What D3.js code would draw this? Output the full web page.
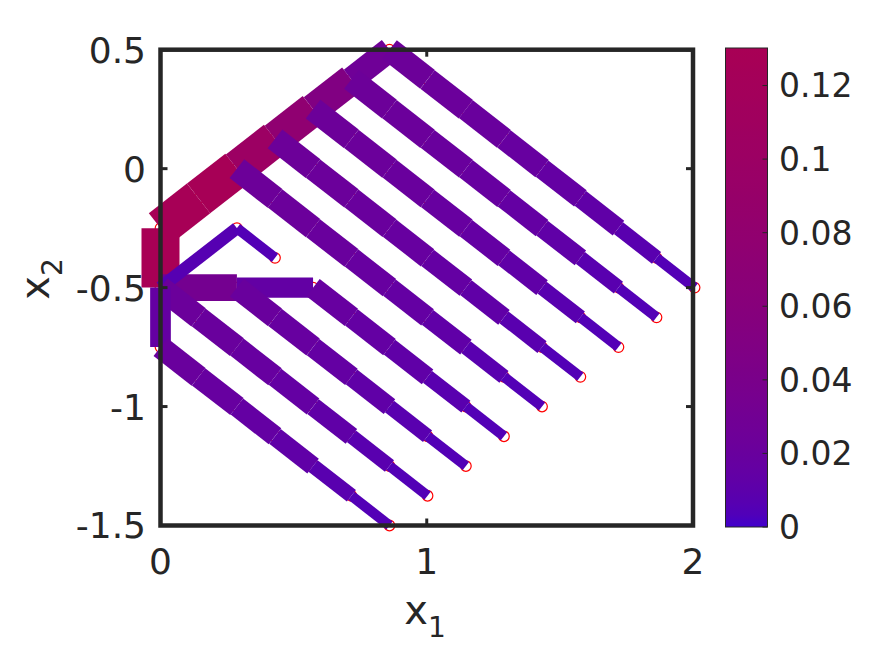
<!DOCTYPE html>
<html><head><meta charset="utf-8">
<script src="https://cdn.jsdelivr.net/npm/d3@7"></script>
<style>body{margin:0;background:#fff}svg{display:block}</style>
</head><body>
<svg id="chart" width="881" height="653"></svg>
<script>
// ---- data (x1, x2 coordinates of tree nodes; flow value per segment) ----
const bandPath = [[0,-0.5],[0,-0.25],[0.143,-0.125],[0.287,0],[0.43,0.125],[0.573,0.25],[0.717,0.375],[0.86,0.5]];
const bandFlow = [0.1302,0.1288,0.1274,0.1019,0.0764,0.051,0.0262];

const branchU2 = [[0.287,0],[0.43,-0.125],[0.573,-0.25],[0.717,-0.375],[0.86,-0.5],[1.003,-0.625],[1.147,-0.75],[1.29,-0.875],[1.433,-1.0]];
const branchU3 = [[0.43,0.125],[0.573,0],[0.717,-0.125],[0.86,-0.25],[1.003,-0.375],[1.147,-0.5],[1.29,-0.625],[1.433,-0.75],[1.577,-0.875]];
const branchU4 = [[0.573,0.25],[0.717,0.125],[0.86,0],[1.003,-0.125],[1.147,-0.25],[1.29,-0.375],[1.433,-0.5],[1.577,-0.625],[1.72,-0.75]];
const branchU5 = [[0.717,0.375],[0.86,0.25],[1.003,0.125],[1.147,0],[1.29,-0.125],[1.433,-0.25],[1.577,-0.375],[1.72,-0.5],[1.863,-0.625]];
const branchU6 = [[0.86,0.5],[1.003,0.375],[1.147,0.25],[1.29,0.125],[1.433,0],[1.577,-0.125],[1.72,-0.25],[1.863,-0.375],[2.006,-0.5]];
const upperFlow = [0.0235,0.022,0.02,0.018,0.0155,0.0125,0.0078,0.0045];

const horizPath = [[0,-0.5],[0.287,-0.5],[0.573,-0.5]];
const horizFlow = [0.033,0.015];
const bluePath = [[0,-0.5],[0.287,-0.25],[0.43,-0.375]];
const blueFlow = [0.006,0.0045];
const lowerA = [[0,-0.5],[0.143,-0.625],[0.287,-0.75],[0.43,-0.875],[0.573,-1.0],[0.717,-1.125],[0.86,-1.25],[1.003,-1.375]];
const flowA = [0.022,0.02,0.018,0.0155,0.0125,0.0078,0.0045];
const lowerB = [[0,-0.5],[0,-0.75],[0.143,-0.875],[0.287,-1.0],[0.43,-1.125],[0.573,-1.25],[0.717,-1.375],[0.86,-1.5]];
const flowB = [0.016,0.02,0.018,0.0155,0.0125,0.0078,0.0045];
const lowerC = [[0.287,-0.5],[0.43,-0.625],[0.573,-0.75],[0.717,-0.875],[0.86,-1.0],[1.003,-1.125],[1.147,-1.25]];
const flowC = [0.02,0.018,0.0155,0.0125,0.0078,0.0045];
const lowerD = [[0.573,-0.5],[0.717,-0.625],[0.86,-0.75],[1.003,-0.875],[1.147,-1.0],[1.29,-1.125]];
const flowD = [0.018,0.0155,0.0125,0.0078,0.0045];

const xTicks = [0,1,2];
const xTickLabels = ["0","1","2"];
const yTicks = [0.5,0,-0.5,-1,-1.5];
const yTickLabels = ["0.5","0","-0.5","-1","-1.5"];
const cTicks = [0,0.02,0.04,0.06,0.08,0.1,0.12];
const cTickLabels = ["0","0.02","0.04","0.06","0.08","0.1","0.12"];
const cMax = 0.1302;

// ---- drawing ----
const svg = d3.select("#chart");
const font = "DejaVu Sans, sans-serif";
const ink = "#262626";

const x = d3.scaleLinear().domain([0,2]).range([160.5,693]);
const y = d3.scaleLinear().domain([-1.5,0.5]).range([525.5,49.7]);
const color = d3.scaleSqrt().domain([0,cMax]).range(["#4000cc","#a80055"]).clamp(true);
const width = d3.scaleLog().domain([0.0013,cMax]).range([0,38]).clamp(true);

const paths = [
  [bandPath,bandFlow],[branchU2,upperFlow],[branchU3,upperFlow],[branchU4,upperFlow],
  [branchU5,upperFlow],[branchU6,upperFlow],[horizPath,horizFlow],[bluePath,blueFlow],
  [lowerA,flowA],[lowerB,flowB],[lowerC,flowC],[lowerD,flowD]
];
const segs = [];
const nodeMap = new Map();
paths.forEach(([p,f]) => {
  p.forEach(pt => nodeMap.set(pt.join(","), pt));
  for (let i=0;i<f.length;i++) segs.push({a:p[i], b:p[i+1], v:f[i]});
});
const nodes = Array.from(nodeMap.values());

// node markers (under the edges)
svg.append("g").selectAll("circle").data(nodes).join("circle")
  .attr("cx", d=>x(d[0])).attr("cy", d=>y(d[1])).attr("r",5.3)
  .attr("fill","none").attr("stroke","#ff0000").attr("stroke-width",1.2);

svg.append("g").selectAll("line").data(segs).join("line")
  .attr("x1", d=>x(d.a[0])).attr("y1", d=>y(d.a[1]))
  .attr("x2", d=>x(d.b[0])).attr("y2", d=>y(d.b[1]))
  .attr("stroke", d=>color(d.v)).attr("stroke-width", d=>width(d.v))
  .attr("stroke-linecap","butt");

// axes frame
const g = svg.append("g");
g.append("rect").attr("x",x(0)).attr("y",y(0.5))
  .attr("width",x(2)-x(0)).attr("height",y(-1.5)-y(0.5))
  .attr("fill","none").attr("stroke",ink).attr("stroke-width",4.5);
const tl = 7;
xTicks.forEach((t,i)=>{
  g.append("line").attr("x1",x(t)).attr("x2",x(t)).attr("y1",y(-1.5)).attr("y2",y(-1.5)-tl).attr("stroke",ink).attr("stroke-width",3);
  g.append("line").attr("x1",x(t)).attr("x2",x(t)).attr("y1",y(0.5)).attr("y2",y(0.5)+tl).attr("stroke",ink).attr("stroke-width",3);
  g.append("text").attr("x",x(t)).attr("y",574).attr("text-anchor","middle")
    .attr("font-family",font).attr("font-size",36).attr("fill",ink).text(xTickLabels[i]);
});
yTicks.forEach((t,i)=>{
  g.append("line").attr("x1",x(0)).attr("x2",x(0)+tl).attr("y1",y(t)).attr("y2",y(t)).attr("stroke",ink).attr("stroke-width",3);
  g.append("line").attr("x1",x(2)).attr("x2",x(2)-tl).attr("y1",y(t)).attr("y2",y(t)).attr("stroke",ink).attr("stroke-width",3);
  g.append("text").attr("x",146).attr("y",y(t)).attr("dy","0.36em").attr("text-anchor","end")
    .attr("font-family",font).attr("font-size",36).attr("fill",ink).text(yTickLabels[i]);
});

// axis labels
const xl = g.append("text").attr("x",425).attr("y",624).attr("text-anchor","middle")
  .attr("font-family",font).attr("font-size",40).attr("fill",ink);
xl.append("tspan").text("x");
xl.append("tspan").attr("dy",13).attr("font-size",28).text("1");
const yl = g.append("text").attr("transform","translate(49,279) rotate(-90)").attr("text-anchor","middle")
  .attr("font-family",font).attr("font-size",40).attr("fill",ink);
yl.append("tspan").text("x");
yl.append("tspan").attr("dy",13).attr("font-size",28).text("2");

// colorbar
const cy = d3.scaleLinear().domain([0,cMax]).range([527,48]);
const cbX = 725.5, cbW = 42;
const defs = svg.append("defs");
const grad = defs.append("linearGradient").attr("id","cb").attr("x1",0).attr("y1",1).attr("x2",0).attr("y2",0);
d3.range(0,41).forEach(i=>{
  const v = cMax*i/40;
  grad.append("stop").attr("offset",(i/40)).attr("stop-color",color(v));
});
svg.append("rect").attr("x",cbX).attr("y",cy(cMax)).attr("width",cbW).attr("height",cy(0)-cy(cMax))
  .attr("fill","url(#cb)").attr("stroke",ink).attr("stroke-width",1);
cTicks.forEach((t,i)=>{
  svg.append("line").attr("x1",cbX+cbW).attr("x2",cbX+cbW-5).attr("y1",cy(t)).attr("y2",cy(t)).attr("stroke",ink).attr("stroke-width",1);
  svg.append("text").attr("x",779).attr("y",cy(t)).attr("dy","0.36em")
    .attr("font-family",font).attr("font-size",33).attr("fill",ink).text(cTickLabels[i]);
});
</script>
</body></html>
